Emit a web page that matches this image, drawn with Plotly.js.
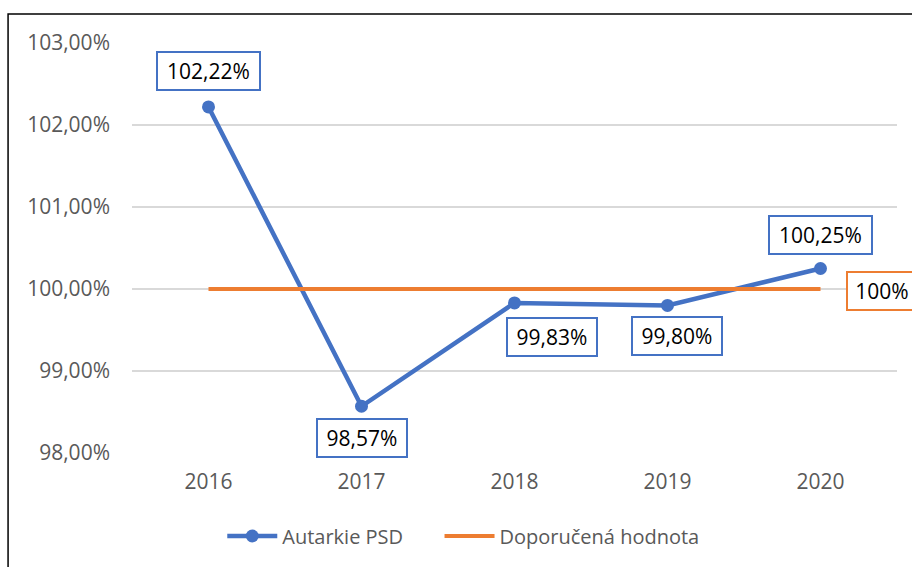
<!DOCTYPE html>
<html>
<head>
<meta charset="utf-8">
<script src="https://cdn.plot.ly/plotly-3.0.1.min.js"></script>
<style>
  html, body { margin: 0; padding: 0; background: #fff; }
  #chart { width: 912px; height: 567px; }
</style>
</head>
<body>
<div id="chart"></div>
<script>
const years = ['2016', '2017', '2018', '2019', '2020'];
const autarkie = [102.22, 98.57, 99.83, 99.80, 100.25];
const doporucena = [100, 100, 100, 100, 100];
const seriesNames = ['Autarkie PSD', 'Doporučená hodnota'];
const yTicks = [98, 99, 100, 101, 102, 103];

const blue = '#4472C4';
const orange = '#ED7D31';
const fontFam = '"Open Sans", "Noto Sans", sans-serif';

function fmt(v) { return v.toFixed(2).replace('.', ',') + '%'; }

// label offsets (px): [xshift, yshift]
const offs = [[0, 36], [0, -32], [37, -34], [9, -31], [0, 34]];

const annotations = autarkie.map((v, i) => ({
  x: i, y: v, xref: 'x', yref: 'y',
  text: fmt(v), showarrow: false,
  xshift: offs[i][0], yshift: offs[i][1],
  font: { family: fontFam, size: 21, color: '#000' },
  bgcolor: '#fff', bordercolor: blue, borderwidth: 2, borderpad: 4,
  width: fmt(v).length > 6 ? 93 : 80, height: 28
}));
annotations.push({
  x: 4, y: doporucena[4], xref: 'x', yref: 'y',
  text: '100%', showarrow: false, xshift: 61, yshift: -2,
  font: { family: fontFam, size: 21, color: '#000' },
  bgcolor: '#fff', bordercolor: orange, borderwidth: 2, borderpad: 4,
  width: 60, height: 28
});

const data = [
  {
    x: years, y: autarkie, name: seriesNames[0], type: 'scatter', mode: 'lines+markers',
    line: { color: blue, width: 4.5 },
    marker: { color: blue, size: 13 },
    legend: 'legend'
  },
  {
    x: years, y: doporucena, name: seriesNames[1], type: 'scatter', mode: 'lines',
    line: { color: orange, width: 4 },
    legend: 'legend2'
  }
];

const legendBase = {
  orientation: 'h', xanchor: 'left', y: -0.2024, yanchor: 'middle',
  font: { family: fontFam, size: 20, color: '#595959' },
  itemwidth: 50, bgcolor: 'rgba(0,0,0,0)'
};

const layout = {
  width: 912, height: 567,
  margin: { l: 132, r: 15, t: 43, b: 114 },
  paper_bgcolor: '#fff', plot_bgcolor: '#fff',
  font: { family: fontFam, size: 21, color: '#595959' },
  showlegend: true,
  legend: Object.assign({}, legendBase, { x: 0.118 }),
  legend2: Object.assign({}, legendBase, { x: 0.402 }),
  xaxis: {
    type: 'category', range: [-0.5, 4.5],
    showgrid: false, zeroline: false, showline: false,
    ticks: '', ticklabelstandoff: 14,
    tickfont: { family: fontFam, size: 21, color: '#595959' },
    fixedrange: true
  },
  yaxis: {
    range: [98, 103], tickmode: 'array', tickvals: yTicks,
    ticktext: yTicks.map(fmt),
    showgrid: true, gridcolor: '#D9D9D9', gridwidth: 1.3,
    zeroline: false, showline: false, ticks: '', ticklabelstandoff: 21,
    tickfont: { family: fontFam, size: 21, color: '#595959' },
    fixedrange: true
  },
  annotations: annotations,
  shapes: [{
    type: 'rect', xref: 'paper', yref: 'paper',
    x0: -0.162, x1: 1.5, y0: -0.5, y1: 1.0707,
    line: { color: '#000', width: 1.5 }, fillcolor: 'rgba(0,0,0,0)', layer: 'below'
  }]
};

Plotly.newPlot('chart', data, layout, { displayModeBar: false, staticPlot: true });
</script>
</body>
</html>
